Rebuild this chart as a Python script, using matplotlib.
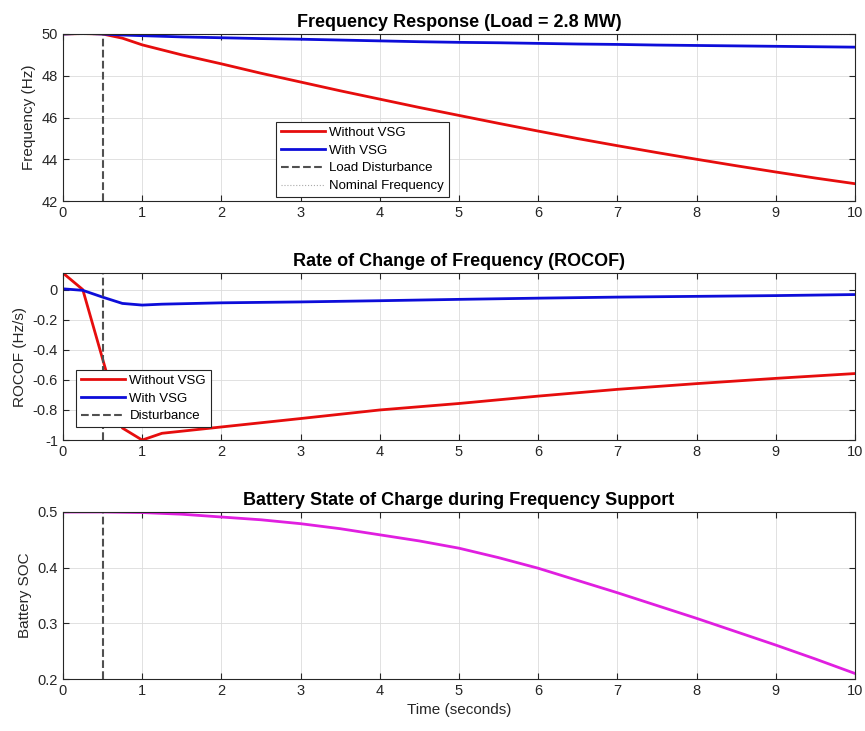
import numpy as np
import matplotlib
matplotlib.use('Agg')
import matplotlib.pyplot as plt
from matplotlib.ticker import FuncFormatter

# datos
t_freq = [0, 0.25, 0.5, 0.75, 1, 1.5, 2, 2.5, 3, 3.5, 4, 4.5, 5, 5.5, 6, 6.5, 7, 7.5, 8, 8.5, 9, 9.5, 10]
f_sin_vsg = [50.0, 50.02, 50.0, 49.8, 49.48, 49.0, 48.57, 48.12, 47.7, 47.28, 46.88, 46.48, 46.1, 45.72,
             45.35, 44.99, 44.65, 44.32, 44.0, 43.69, 43.39, 43.1, 42.83]
f_con_vsg = [50.0, 50.03, 50.0, 49.95, 49.92, 49.86, 49.82, 49.78, 49.75, 49.71, 49.67, 49.63, 49.6, 49.58,
             49.55, 49.52, 49.5, 49.47, 49.45, 49.43, 49.41, 49.39, 49.37]

t_rocof = [0, 0.25, 0.5, 0.75, 1, 1.25, 2, 3, 4, 5, 6, 7, 8, 9, 10]
rocof_sin = [0.11, 0.0, -0.46, -0.92, -1.0, -0.955, -0.913, -0.857, -0.80, -0.757, -0.708, -0.663, -0.625, -0.59, -0.558]
rocof_con = [0.005, -0.005, -0.05, -0.092, -0.103, -0.097, -0.088, -0.082, -0.074, -0.065, -0.057, -0.05, -0.045, -0.04, -0.033]

t_soc = [0, 0.5, 1, 1.5, 2, 2.5, 3, 3.5, 4, 4.5, 5, 5.5, 6, 6.5, 7, 7.5, 8, 8.5, 9, 9.5, 10]
soc = [0.5, 0.5, 0.499, 0.496, 0.491, 0.486, 0.479, 0.47, 0.459, 0.448, 0.435, 0.418, 0.399, 0.377,
       0.355, 0.332, 0.309, 0.285, 0.261, 0.236, 0.21]

t_dist = 0.5
f_nominal = 50

plt.rcParams['font.family'] = ['Liberation Sans', 'DejaVu Sans']

rojo = (0.9, 0.05, 0.05)
azul = (0.05, 0.05, 0.85)
magenta = (0.88, 0.12, 0.88)
gris = '#505050'
oscuro = '#262626'

fig = plt.figure(figsize=(8.65, 7.31), dpi=100)
izq, ancho, alto = 0.0728, 0.9156, 0.2285
ax1 = fig.add_axes([izq, 0.725, ancho, alto])
ax2 = fig.add_axes([izq, 0.398, ancho, alto])
ax3 = fig.add_axes([izq, 0.0711, ancho, alto])


def estilo(ax):
    # aspecto tipo MATLAB: caja, ticks hacia dentro, rejilla suave
    ax.set_xlim(0, 10)
    ax.set_xticks(range(0, 11))
    ax.grid(True, color='#dcdcdc', linewidth=0.6)
    ax.set_axisbelow(True)
    ax.tick_params(direction='in', top=True, right=True, labelsize=10.5,
                   colors=oscuro, length=4, width=0.8)
    for s in ax.spines.values():
        s.set_color(oscuro)
        s.set_linewidth(0.8)


def leyenda(ax, x, y):
    leg = ax.legend(loc='upper left', bbox_to_anchor=(x, y), borderaxespad=0, fontsize=9.5,
                    handlelength=3.4, handletextpad=0.3, labelspacing=0.42,
                    borderpad=0.35, fancybox=False, framealpha=1, edgecolor=oscuro)
    leg.get_frame().set_linewidth(0.8)


# Panel 1: frecuencia
ax1.plot(t_freq, f_sin_vsg, color=rojo, lw=2, label='Without VSG')
ax1.plot(t_freq, f_con_vsg, color=azul, lw=2, label='With VSG')
ax1.axvline(t_dist, color=gris, ls='--', lw=1.5, label='Load Disturbance')
ax1.axhline(f_nominal, color='#aaaaaa', ls=':', lw=0.8, label='Nominal Frequency', zorder=0)
ax1.set_ylim(42, 50)
ax1.set_yticks([42, 44, 46, 48, 50])
ax1.set_ylabel('Frequency (Hz)', fontsize=11, color=oscuro)
ax1.set_title('Frequency Response (Load = 2.8 MW)', fontsize=13, fontweight='bold', pad=5)
estilo(ax1)
leyenda(ax1, 0.269, 0.473)

# Panel 2: ROCOF
ax2.plot(t_rocof, rocof_sin, color=rojo, lw=2, label='Without VSG')
ax2.plot(t_rocof, rocof_con, color=azul, lw=2, label='With VSG')
ax2.axvline(t_dist, color=gris, ls='--', lw=1.5, label='Disturbance')
ax2.set_ylim(-1, 0.11)
ax2.set_yticks([-1, -0.8, -0.6, -0.4, -0.2, 0])
ax2.yaxis.set_major_formatter(FuncFormatter(lambda v, p: '%g' % round(v, 2)))
ax2.set_ylabel('ROCOF (Hz/s)', fontsize=11, color=oscuro)
ax2.set_title('Rate of Change of Frequency (ROCOF)', fontsize=13, fontweight='bold', pad=5)
estilo(ax2)
leyenda(ax2, 0.0164, 0.419)

# Panel 3: estado de carga de la bateria
ax3.plot(t_soc, soc, color=magenta, lw=2)
ax3.axvline(t_dist, color=gris, ls='--', lw=1.5)
ax3.set_ylim(0.2, 0.5)
ax3.set_yticks([0.2, 0.3, 0.4, 0.5])
ax3.set_ylabel('Battery SOC', fontsize=11, color=oscuro)
ax3.set_xlabel('Time (seconds)', fontsize=11, color=oscuro)
ax3.set_title('Battery State of Charge during Frequency Support', fontsize=13, fontweight='bold', pad=5)
estilo(ax3)

fig.savefig('out.png', dpi=100)
